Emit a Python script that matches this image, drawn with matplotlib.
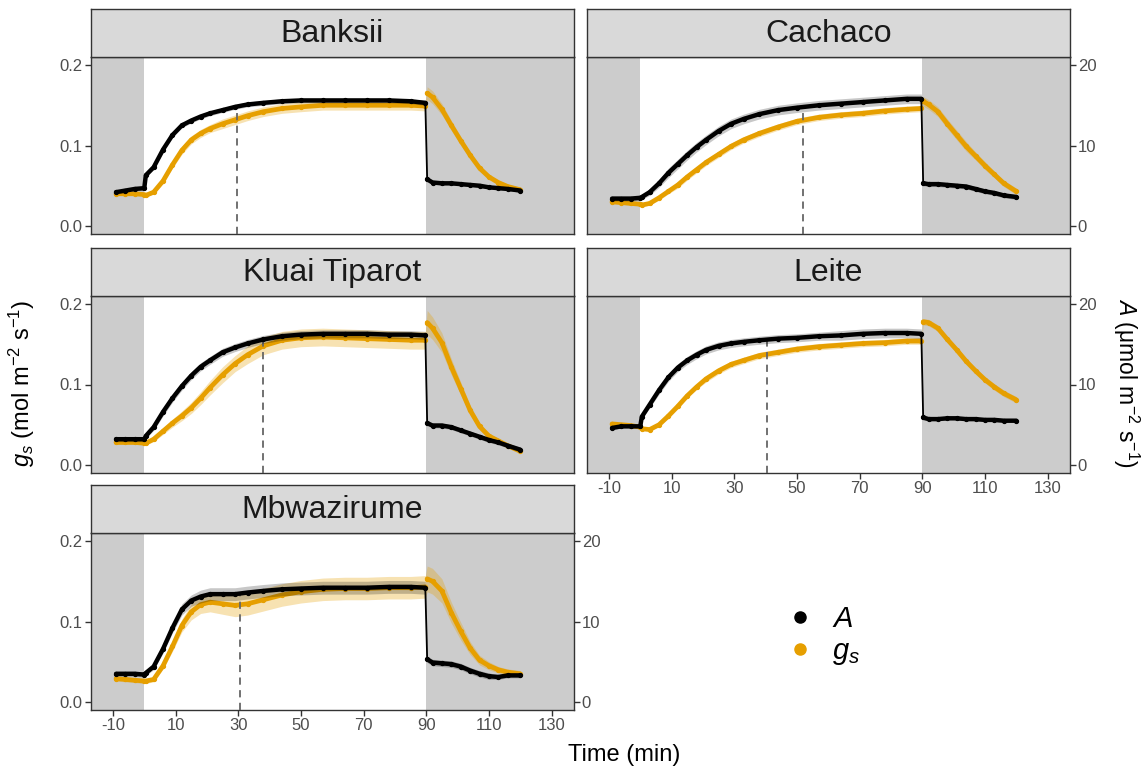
import numpy as np
import matplotlib
matplotlib.use("Agg")
import matplotlib.pyplot as plt
from matplotlib.lines import Line2D

plt.rcParams['font.family'] = ['Liberation Sans', 'DejaVu Sans']
plt.rcParams['mathtext.fontset'] = 'custom'
plt.rcParams['mathtext.rm'] = 'Liberation Sans'
plt.rcParams['mathtext.it'] = 'Liberation Sans:italic'
plt.rcParams['axes.unicode_minus'] = False

# time (min) of the averaged readings, shared by all cultivars
t = [-9, -6, -3, 0, 0.5, 3, 6, 9, 12, 15, 18, 21, 25, 29, 33, 38, 44, 50, 57, 64,
     71, 78, 85, 89.7, 90.3, 92, 95, 98, 101, 104, 107, 110, 113, 116, 120]

cultivars = ['Banksii', 'Cachaco', 'Kluai Tiparot', 'Leite', 'Mbwazirume']

# A (umol m-2 s-1) mean and SE
banksii_A = [4.2, 4.4, 4.6, 4.7, 6.3, 7.3, 9.5, 11.3, 12.5, 13.1, 13.6, 14.0, 14.4, 14.8, 15.1, 15.3, 15.5, 15.6,
             15.6, 15.6, 15.6, 15.6, 15.5, 15.3, 5.8, 5.4, 5.3, 5.3, 5.2, 5.1, 5.0, 4.8, 4.7, 4.6, 4.4]
cachaco_A = [3.4, 3.4, 3.4, 3.5, 3.6, 4.2, 5.3, 6.6, 7.7, 8.8, 9.8, 10.7, 11.8, 12.7, 13.3, 13.9, 14.4, 14.7,
             15.0, 15.2, 15.4, 15.6, 15.8, 15.8, 5.3, 5.2, 5.2, 5.1, 5.0, 4.9, 4.6, 4.3, 4.1, 3.8, 3.6]
kluai_A = [3.2, 3.2, 3.2, 3.2, 3.6, 4.7, 6.6, 8.3, 9.8, 11.1, 12.2, 13.0, 14.0, 14.6, 15.1, 15.6, 16.0, 16.2,
           16.3, 16.3, 16.3, 16.2, 16.2, 16.1, 5.2, 4.9, 4.9, 4.7, 4.3, 3.9, 3.5, 3.1, 2.8, 2.4, 1.9]
leite_A = [4.6, 4.8, 4.8, 4.8, 6.0, 7.5, 9.3, 10.9, 12.1, 13.0, 13.7, 14.3, 14.8, 15.1, 15.3, 15.5, 15.7, 15.8,
           16.0, 16.1, 16.3, 16.4, 16.4, 16.3, 5.9, 5.7, 5.7, 5.8, 5.8, 5.7, 5.7, 5.6, 5.6, 5.5, 5.5]
mbw_A = [3.5, 3.5, 3.5, 3.4, 3.6, 4.4, 6.6, 9.2, 11.5, 12.6, 13.1, 13.4, 13.4, 13.4, 13.6, 13.8, 14.0, 14.1,
         14.2, 14.2, 14.2, 14.3, 14.3, 14.2, 5.3, 4.9, 4.8, 4.7, 4.4, 3.9, 3.5, 3.2, 3.1, 3.3, 3.3]

banksii_A_se = [0.2, 0.2, 0.2, 0.2, 0.2, 0.3, 0.3, 0.3, 0.3, 0.3, 0.3, 0.3, 0.3, 0.3, 0.3, 0.3, 0.3, 0.3,
                0.3, 0.3, 0.3, 0.3, 0.3, 0.3, 0.2, 0.2, 0.2, 0.2, 0.2, 0.2, 0.2, 0.2, 0.2, 0.2, 0.2]
cachaco_A_se = [0.3, 0.3, 0.3, 0.3, 0.3, 0.4, 0.5, 0.6, 0.6, 0.6, 0.6, 0.6, 0.6, 0.6, 0.6, 0.6, 0.6, 0.6,
                0.6, 0.6, 0.6, 0.6, 0.6, 0.6, 0.3, 0.3, 0.3, 0.3, 0.3, 0.3, 0.3, 0.3, 0.3, 0.3, 0.3]
kluai_A_se = [0.3, 0.3, 0.3, 0.3, 0.3, 0.4, 0.5, 0.5, 0.5, 0.5, 0.5, 0.5, 0.5, 0.5, 0.5, 0.5, 0.5, 0.5,
              0.5, 0.5, 0.5, 0.5, 0.5, 0.5, 0.3, 0.3, 0.3, 0.3, 0.3, 0.3, 0.3, 0.3, 0.3, 0.3, 0.3]
leite_A_se = [0.2, 0.2, 0.2, 0.2, 0.3, 0.4, 0.5, 0.5, 0.5, 0.5, 0.5, 0.5, 0.5, 0.5, 0.5, 0.5, 0.5, 0.5,
              0.5, 0.6, 0.6, 0.6, 0.6, 0.6, 0.3, 0.2, 0.2, 0.2, 0.2, 0.2, 0.2, 0.2, 0.2, 0.2, 0.2]
mbw_A_se = [0.3, 0.3, 0.3, 0.3, 0.3, 0.4, 0.5, 0.6, 0.7, 0.7, 0.8, 0.8, 0.8, 0.8, 0.8, 0.8, 0.8, 0.8,
            0.8, 0.8, 0.8, 0.8, 0.8, 0.8, 0.4, 0.4, 0.4, 0.4, 0.4, 0.4, 0.4, 0.4, 0.3, 0.3, 0.3]

# gs (mol m-2 s-1) mean and SE
banksii_gs = [0.040, 0.040, 0.040, 0.039, 0.038, 0.042, 0.056, 0.076, 0.094, 0.107, 0.115, 0.121, 0.127, 0.132,
              0.137, 0.142, 0.146, 0.148, 0.150, 0.150, 0.150, 0.150, 0.150, 0.149, 0.165, 0.160, 0.145, 0.125,
              0.106, 0.088, 0.072, 0.061, 0.054, 0.049, 0.045]
cachaco_gs = [0.030, 0.029, 0.028, 0.027, 0.026, 0.028, 0.035, 0.043, 0.051, 0.061, 0.070, 0.079, 0.089, 0.099,
              0.107, 0.115, 0.123, 0.130, 0.135, 0.138, 0.140, 0.143, 0.145, 0.146, 0.155, 0.151, 0.142, 0.127,
              0.113, 0.099, 0.087, 0.075, 0.064, 0.053, 0.043]
kluai_gs = [0.028, 0.028, 0.028, 0.027, 0.027, 0.032, 0.042, 0.052, 0.061, 0.071, 0.083, 0.096, 0.112, 0.126,
            0.137, 0.148, 0.155, 0.158, 0.159, 0.158, 0.157, 0.156, 0.155, 0.155, 0.177, 0.170, 0.152, 0.122,
            0.095, 0.068, 0.048, 0.036, 0.030, 0.024, 0.017]
leite_gs = [0.051, 0.050, 0.049, 0.047, 0.045, 0.044, 0.050, 0.061, 0.073, 0.086, 0.097, 0.107, 0.117, 0.125,
            0.130, 0.136, 0.140, 0.144, 0.147, 0.149, 0.151, 0.152, 0.154, 0.154, 0.178, 0.177, 0.170, 0.156,
            0.143, 0.129, 0.117, 0.106, 0.097, 0.089, 0.081]
mbw_gs = [0.029, 0.028, 0.027, 0.026, 0.026, 0.028, 0.045, 0.069, 0.095, 0.112, 0.121, 0.124, 0.122, 0.120,
          0.122, 0.127, 0.133, 0.137, 0.140, 0.141, 0.141, 0.142, 0.142, 0.143, 0.153, 0.150, 0.138, 0.111,
          0.088, 0.067, 0.052, 0.045, 0.040, 0.037, 0.035]

banksii_gs_se = [0.002, 0.002, 0.002, 0.002, 0.002, 0.002, 0.003, 0.004, 0.005, 0.005, 0.005, 0.005, 0.006, 0.006,
                 0.006, 0.006, 0.006, 0.006, 0.006, 0.006, 0.006, 0.006, 0.006, 0.006, 0.008, 0.008, 0.007, 0.006,
                 0.005, 0.004, 0.004, 0.003, 0.003, 0.003, 0.003]
cachaco_gs_se = [0.002, 0.002, 0.002, 0.002, 0.002, 0.002, 0.003, 0.003, 0.004, 0.004, 0.004, 0.004, 0.004, 0.004,
                 0.004, 0.004, 0.004, 0.004, 0.004, 0.004, 0.004, 0.004, 0.004, 0.004, 0.006, 0.006, 0.006, 0.006,
                 0.006, 0.006, 0.005, 0.005, 0.004, 0.004, 0.004]
kluai_gs_se = [0.002, 0.002, 0.002, 0.002, 0.002, 0.003, 0.004, 0.005, 0.006, 0.007, 0.008, 0.009, 0.010, 0.010,
               0.011, 0.011, 0.011, 0.011, 0.011, 0.011, 0.011, 0.011, 0.011, 0.011, 0.015, 0.014, 0.012, 0.010,
               0.008, 0.006, 0.004, 0.003, 0.003, 0.002, 0.002]
leite_gs_se = [0.002, 0.002, 0.002, 0.002, 0.002, 0.002, 0.002, 0.003, 0.003, 0.003, 0.003, 0.004, 0.004, 0.004,
               0.004, 0.004, 0.004, 0.004, 0.004, 0.004, 0.004, 0.004, 0.004, 0.004, 0.004, 0.004, 0.004, 0.004,
               0.004, 0.004, 0.004, 0.004, 0.004, 0.004, 0.004]
mbw_gs_se = [0.003, 0.003, 0.003, 0.003, 0.003, 0.003, 0.004, 0.006, 0.008, 0.010, 0.011, 0.012, 0.013, 0.014,
             0.014, 0.014, 0.014, 0.014, 0.014, 0.014, 0.014, 0.014, 0.014, 0.014, 0.016, 0.016, 0.015, 0.013,
             0.011, 0.008, 0.006, 0.005, 0.004, 0.004, 0.004]

# time to reach 90% of final A (dashed line) and A at that time
t90 = [29.5, 52, 38, 40.5, 30.5]
A_t90 = [14.8, 14.8, 15.6, 15.4, 13.5]

A_all = [banksii_A, cachaco_A, kluai_A, leite_A, mbw_A]
A_se_all = [banksii_A_se, cachaco_A_se, kluai_A_se, leite_A_se, mbw_A_se]
gs_all = [banksii_gs, cachaco_gs, kluai_gs, leite_gs, mbw_gs]
gs_se_all = [banksii_gs_se, cachaco_gs_se, kluai_gs_se, leite_gs_se, mbw_gs_se]

ORANGE = '#E69F00'
EDGE = '#333333'
W, H = 1141, 767

fig = plt.figure(figsize=(W / 100, H / 100), dpi=100)


def rect(x, y, w, h):
    return [x / W, 1 - (y + h) / H, w / W, h / H]


col_x = [91, 587]
row_y = [57, 296, 533]
pw, ph, sh = 482.5, 177, 48

tt = np.array(t)
pre = tt < 90
post = tt > 90

for i, name in enumerate(cultivars):
    row, col = divmod(i, 2)
    x0, y0 = col_x[col], row_y[row]
    ax = fig.add_axes(rect(x0, y0, pw, ph))
    ax.set_xlim(-17, 137)
    ax.set_ylim(-0.01, 0.21)
    ax.set_facecolor('#cccccc')
    ax.axvspan(0, 90, color='white', lw=0, zorder=0)
    ax2 = ax.twinx()
    ax2.set_ylim(-1, 21)

    gs = np.array(gs_all[i])
    gse = np.array(gs_se_all[i])
    A = np.array(A_all[i])
    ase = np.array(A_se_all[i])

    ax2.vlines(t90[i], -1, A_t90[i], colors='#666666', linestyles=(0, (4, 3)), lw=1.3, zorder=1)

    ax.fill_between(tt, gs - gse, gs + gse, color=ORANGE, alpha=0.3, lw=0)
    for m in (pre, post):
        ax.plot(tt[m], gs[m], color=ORANGE, lw=3.4, marker='o', ms=2.8, solid_capstyle='round')

    ax2.fill_between(tt, A - ase, A + ase, color='black', alpha=0.22, lw=0, zorder=2)
    ax2.plot(tt, A, color='black', lw=1.3, zorder=3)
    for m in (pre, post):
        ax2.plot(tt[m], A[m], color='black', lw=3.2, marker='o', ms=2.8, solid_capstyle='round', zorder=3)

    for s in ax.spines.values():
        s.set_color(EDGE)
        s.set_linewidth(1.0)
    for s in ax2.spines.values():
        s.set_visible(False)

    show_left = col == 0
    show_right = col == 1 or name == 'Mbwazirume'
    show_x = name in ('Leite', 'Mbwazirume')

    ax.set_xticks(range(-10, 131, 20))
    ax.set_yticks([0, 0.1, 0.2])
    ax.set_yticklabels(['0.0', '0.1', '0.2'])
    ax2.set_yticks([0, 10, 20])
    ax.tick_params(direction='out', length=4, width=1, color=EDGE, labelsize=12,
                   labelcolor='#4d4d4d', pad=2,
                   left=show_left, labelleft=show_left, bottom=show_x, labelbottom=show_x)
    ax2.tick_params(direction='out', length=4, width=1, color=EDGE, labelsize=12,
                    labelcolor='#4d4d4d', pad=2, right=show_right, labelright=show_right)

    st = fig.add_axes(rect(x0, y0 - sh, pw, sh))
    st.set_facecolor('#d9d9d9')
    st.set_xticks([])
    st.set_yticks([])
    for s in st.spines.values():
        s.set_color(EDGE)
        s.set_linewidth(1.0)
    st.text(0.5, 0.47, name, ha='center', va='center', fontsize=23, color='#1a1a1a',
            transform=st.transAxes)

fig.text(22 / W, 1 - 383 / H, r'$g_s$ (mol m$^{-2}$ s$^{-1}$)', rotation=90,
         ha='center', va='center', fontsize=17)
fig.text(1126 / W, 1 - 383 / H, r'$A$ ($\mathrm{\mu}$mol m$^{-2}$ s$^{-1}$)', rotation=270,
         ha='center', va='center', fontsize=16.5)
fig.text(624 / W, 1 - 755 / H, 'Time (min)', ha='center', va='center', fontsize=17)

handles = [Line2D([], [], ls='none', marker='o', ms=8, color='black'),
           Line2D([], [], ls='none', marker='o', ms=8, color=ORANGE)]
fig.legend(handles, ['$A$', '$g_s$'], loc='center left', bbox_to_anchor=(756 / W, 1 - 636 / H),
           frameon=False, fontsize=21, handletextpad=0.5, labelspacing=0.15, handlelength=1.2)

fig.savefig('out.png', dpi=100)
